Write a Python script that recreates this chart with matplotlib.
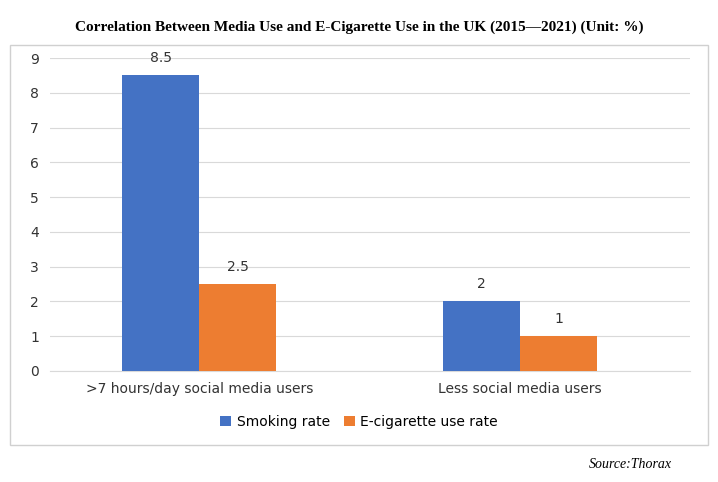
import matplotlib.pyplot as plt
import numpy as np
from matplotlib.patches import Rectangle

categories = ['>7 hours/day social media users', 'Less social media users']
smoking = [8.5, 2]
ecig = [2.5, 1]

fig = plt.figure(figsize=(7.18, 4.82), dpi=100)
fig.patches.append(Rectangle((10/718, 1-445/482), 698/718, 400/482, transform=fig.transFigure,
                             fill=False, edgecolor='#d0d0d0', linewidth=1))

ax = fig.add_axes([50/718, 1-371/482, 640/718, 313/482])
x = np.arange(len(categories))
w = 0.24
b1 = ax.bar(x - w/2, smoking, w, color='#4472C4', label='Smoking rate', zorder=3)
b2 = ax.bar(x + w/2, ecig, w, color='#ED7D31', label='E-cigarette use rate', zorder=3)
for bars in (b1, b2):
    for r in bars:
        ax.text(r.get_x() + r.get_width()/2, r.get_height() + 0.3, f'{r.get_height():g}',
                ha='center', va='bottom', fontsize=10, color='#333333')

ax.set_xlim(-0.466, 1.53)
ax.set_ylim(0, 9)
ax.set_yticks(range(10))
ax.set_xticks(x, categories)
ax.yaxis.grid(True, color='#d9d9d9', linewidth=0.8, zorder=0)
ax.tick_params(length=0, labelsize=10, colors='#333333', pad=8)
for s in ['top', 'right', 'left']:
    ax.spines[s].set_visible(False)
ax.spines['bottom'].set_color('#d9d9d9')

fig.legend(loc='center', bbox_to_anchor=(359/718, 1-422/482), ncol=2, frameon=False,
           fontsize=10, handlelength=0.8, handleheight=0.8, columnspacing=1.0, handletextpad=0.4)

fig.text(0.5, 1-27/482, 'Correlation Between Media Use and E-Cigarette Use in the UK (2015\u20142021) (Unit: %)',
         ha='center', va='center', fontsize=11, fontweight='bold', family='Liberation Serif')
fig.text(672/718, 1-465/482, 'Source:Thorax', ha='right', va='center', fontsize=10,
         style='italic', family='Liberation Serif')

fig.savefig('out.png', dpi=100)
